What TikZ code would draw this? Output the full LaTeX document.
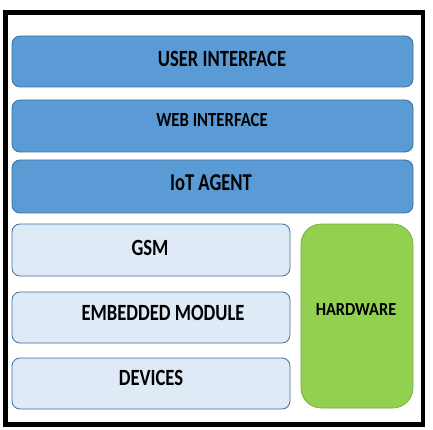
\documentclass[tikz,border=0pt]{standalone}
\usepackage{fontspec}
\setmainfont{Carlito}
\definecolor{midblue}{HTML}{5B9BD5}
\definecolor{lightblue}{HTML}{DEEBF7}
\definecolor{edgeblue}{HTML}{41719C}
\definecolor{hwgreen}{HTML}{92D050}
\tikzset{
  layer/.style={draw=edgeblue, line width=0.8pt, fill=midblue, rounded corners=8pt},
  hwlayer/.style={draw=edgeblue, line width=0.8pt, fill=lightblue, rounded corners=8pt},
  hwbox/.style={draw=hwgreen!80!black, line width=0.6pt, fill=hwgreen, rounded corners=20pt},
  lbl/.style={font=\bfseries, text=black, inner sep=0pt, anchor=center}
}
\newcommand{\lbltext}[3]{\scalebox{1.0}[#2]{\fontsize{#1}{#1}\selectfont #3}}
\begin{document}
\begin{tikzpicture}[x=1pt,y=-1pt]
\useasboundingbox[fill=white] (0,0) rectangle (433,430);
\draw[line width=4.5pt] (5.25,12.5) rectangle (423,424.5);
% boxes
\draw[layer] (12,36) rectangle (413,87);
\draw[layer] (12,100) rectangle (413,152);
\draw[layer] (12,160) rectangle (413,213);
\draw[hwlayer] (12,224) rectangle (290,276);
\draw[hwlayer] (12,292) rectangle (290,343);
\draw[hwlayer] (12,358) rectangle (290,409);
\draw[hwbox] (301,224) rectangle (413,408);
% labels
\node[lbl] (ui) at (222,59) {\lbltext{18.6}{1.25}{USER INTERFACE}};
\node[lbl] (web) at (212,120) {\lbltext{16.7}{1.2}{WEB INTERFACE}};
\node[lbl] (iot) at (211,183) {\lbltext{18.6}{1.3}{IoT AGENT}};
\node[lbl] (gsm) at (150,248) {\lbltext{18.6}{1.25}{GSM}};
\node[lbl] (emb) at (163,313) {\lbltext{18.6}{1.25}{EMBEDDED MODULE}};
\node[lbl] (dev) at (151,378) {\lbltext{18.6}{1.25}{DEVICES}};
\node[lbl] (hw) at (356,310) {\lbltext{16.3}{1.13}{HARDWARE}};
\end{tikzpicture}
\end{document}
